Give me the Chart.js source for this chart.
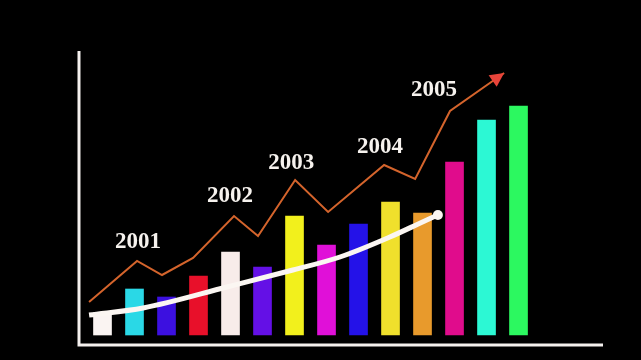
<!DOCTYPE html>
<html lang="en">
<head>
  <meta charset="UTF-8">
  <title>Growth chart 2001-2005</title>
  <script src="https://cdn.jsdelivr.net/npm/chart.js@4.4.1/dist/chart.umd.min.js"></script>
  <style>
    html, body { margin: 0; padding: 0; background: #000; }
    #wrap { width: 641px; height: 360px; }
  </style>
</head>
<body>
  <div id="wrap"><canvas id="growthChart" width="641" height="360"></canvas></div>

  <script>
    // bar categories (one per period) and their heights
    var categories = [1, 2, 3, 4, 5, 6, 7, 8, 9, 10, 11, 12, 13, 14];
    var barValues = [22, 46, 38, 59, 83, 68, 119, 90, 111, 133, 122, 173, 215, 229];
    var barColors = ['#faf4f2', '#2ad8e6', '#3c10e0', '#e8102a', '#f8ecea', '#6410e6', '#f2f01c',
                     '#e010d8', '#2412e8', '#f0e02c', '#e89a2c', '#e00c8c', '#2cf8d4', '#2cf860'];

    // orange zigzag trend line
    var trendX = [0.58, 2.08, 2.86, 3.83, 5.11, 5.86, 7.02, 8.05, 9.80, 10.77, 11.86, 13.55];
    var trendY = [33, 74, 60, 77, 119, 99, 155, 123, 170, 156, 224, 262];

    // white smooth curve
    var curveX = [0.58, 2.27, 4.89, 6.95, 8.42, 9.98, 11.0, 11.48];
    var curveY = [20, 27, 48, 65, 78, 98, 113, 120];

    // year labels and the trend point each one sits above
    var yearLabels = ['2001', '2002', '2003', '2004', '2005'];
    var yearAnchor = [1, 4, 6, 8, 10];

    function pts(xs, ys) {
      return xs.map(function (x, i) { return { x: x, y: ys[i] }; });
    }

    // axes, arrow head and year labels
    var decorPlugin = {
      id: 'decor',
      beforeDatasetsDraw: function (chart) {
        var a = chart.chartArea, ctx = chart.ctx;
        ctx.save();
        ctx.strokeStyle = '#f4f0ee';
        ctx.lineWidth = 3;
        ctx.beginPath();
        ctx.moveTo(a.left, a.top);
        ctx.lineTo(a.left, a.bottom);
        ctx.lineTo(a.right, a.bottom);
        ctx.stroke();
        ctx.restore();
      },
      afterDatasetsDraw: function (chart) {
        var ctx = chart.ctx;
        var xs = chart.scales.x, ys = chart.scales.y;
        var n = trendX.length;
        var tx = xs.getPixelForValue(trendX[n - 1]), ty = ys.getPixelForValue(trendY[n - 1]);
        var px = xs.getPixelForValue(trendX[n - 2]), py = ys.getPixelForValue(trendY[n - 2]);
        var ang = Math.atan2(ty - py, tx - px);
        var len = 14, half = 7;
        ctx.save();
        ctx.fillStyle = '#e8443a';
        ctx.translate(tx, ty);
        ctx.rotate(ang);
        ctx.beginPath();
        ctx.moveTo(0, 0);
        ctx.lineTo(-len, -half);
        ctx.lineTo(-len, half);
        ctx.closePath();
        ctx.fill();
        ctx.restore();

        var offs = [[1, -19], [-4, -20], [-4, -17], [-4, -18], [-16, -21]];
        ctx.save();
        ctx.fillStyle = '#f6f2ee';
        ctx.font = 'bold 23px "Liberation Serif", "DejaVu Serif", serif';
        ctx.textAlign = 'center';
        ctx.textBaseline = 'middle';
        yearLabels.forEach(function (lab, i) {
          var k = yearAnchor[i];
          var x = xs.getPixelForValue(trendX[k]) + offs[i][0];
          var y = ys.getPixelForValue(trendY[k]) + offs[i][1];
          ctx.fillText(lab, x, y);
        });
        ctx.restore();
      }
    };

    var ctx = document.getElementById('growthChart').getContext('2d');
    var chart = new Chart(ctx, {
      type: 'bar',
      data: {
        datasets: [{
          type: 'line',
          data: pts(curveX, curveY),
          borderColor: '#fbf6f2',
          backgroundColor: '#fbf6f2',
          borderWidth: 5,
          borderCapStyle: 'butt',
          tension: 0.4,
          cubicInterpolationMode: 'monotone',
          pointRadius: curveX.map(function (v, i) { return i === curveX.length - 1 ? 5 : 0; }),
          pointBorderWidth: 0,
          order: 1
        }, {
          type: 'line',
          data: pts(trendX, trendY),
          borderColor: '#d4642c',
          borderWidth: 2,
          tension: 0,
          pointRadius: 0,
          order: 2
        }, {
          type: 'bar',
          data: pts(categories, barValues),
          backgroundColor: barColors,
          barThickness: 18,
          order: 3
        }]
      },
      options: {
        responsive: false,
        animation: false,
        layout: { padding: { left: 79, right: 38, top: 51, bottom: 15 } },
        plugins: { legend: { display: false }, tooltip: { enabled: false } },
        scales: {
          x: { type: 'linear', display: false, offset: false, min: 0.2656, max: 16.64 },
          y: { display: false, min: -10, max: 284 }
        }
      },
      plugins: [decorPlugin]
    });
  </script>
</body>
</html>
